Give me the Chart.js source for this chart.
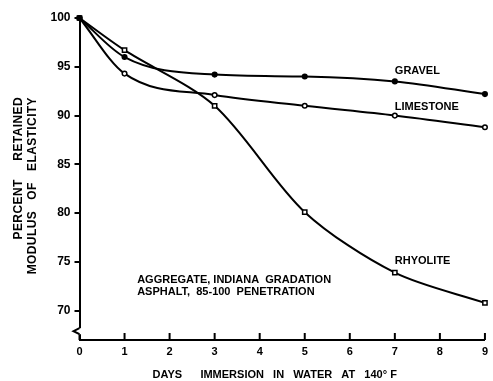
<!DOCTYPE html>
<html>
<head>
<meta charset="utf-8">
<script src="https://cdn.jsdelivr.net/npm/chart.js@4"></script>
<style>
html,body{margin:0;padding:0;background:#fff;}
canvas{display:block;}
</style>
</head>
<body>
<canvas id="c" width="493" height="381"></canvas>
<script>
// ---- data ----
const days = [0, 1, 3, 5, 7, 9];
const xTickValues = [0, 1, 2, 3, 4, 5, 6, 7, 8, 9];
const yTickValues = [70, 75, 80, 85, 90, 95, 100];
const gravel    = [100, 96.0, 94.2, 94.0, 93.5, 92.2];
const limestone = [100, 94.3, 92.1, 91.0, 90.0, 88.8];
const rhyolite  = [100, 96.7, 91.0, 80.1, 73.9, 70.8];
const seriesNames = ['GRAVEL', 'LIMESTONE', 'RHYOLITE'];
const noteLines = ['AGGREGATE, INDIANA  GRADATION', 'ASPHALT,  85-100  PENETRATION'];
const xTitle = 'DAYS      IMMERSION   IN   WATER   AT   140\u00B0 F';
const yTitleLines = ['PERCENT     RETAINED', 'MODULUS   OF   ELASTICITY'];

const FONT = '"Liberation Sans", Arial, sans-serif';

const decor = {
  id: 'decor',
  afterDraw(chart) {
    const {ctx, chartArea: a, scales: {x, y}} = chart;
    ctx.save();
    ctx.strokeStyle = '#000';
    ctx.lineWidth = 2;
    // inward x tick marks
    x.ticks.forEach(t => {
      const px = x.getPixelForValue(t.value);
      ctx.beginPath();
      ctx.moveTo(px, a.bottom);
      ctx.lineTo(px, a.bottom - 7);
      ctx.stroke();
    });
    // axis break mark on the y axis
    const by = y.getPixelForValue(67.9);
    ctx.fillStyle = '#fff';
    ctx.fillRect(a.left - 2, by - 3, 4, 6);
    ctx.beginPath();
    ctx.moveTo(a.left, by - 3);
    ctx.lineTo(a.left - 6, by);
    ctx.lineTo(a.left, by + 3);
    ctx.stroke();

    ctx.fillStyle = '#000';
    ctx.textBaseline = 'middle';
    ctx.textAlign = 'left';
    // series labels
    ctx.font = 'bold 11px ' + FONT;
    const lbl = [[7.0, 94.6], [7.0, 90.9], [7.0, 75.1]];
    seriesNames.forEach((s, i) => {
      ctx.fillText(s, x.getPixelForValue(lbl[i][0]), y.getPixelForValue(lbl[i][1]));
    });
    // note
    noteLines.forEach((s, i) => {
      ctx.fillText(s, x.getPixelForValue(1.28), y.getPixelForValue(i === 0 ? 73.2 : 71.95));
    });
    // x title
    ctx.font = 'bold 11px ' + FONT;
    ctx.fillText(xTitle, a.left + 73, a.bottom + 35);
    // y title (rotated)
    ctx.font = 'bold 12px ' + FONT;
    ctx.letterSpacing = '0.4px';
    ctx.textAlign = 'right';
    const ends = [19, 33];
    yTitleLines.forEach((s, i) => {
      ctx.save();
      ctx.translate(ends[i], a.top + 79);
      ctx.rotate(-Math.PI / 2);
      ctx.fillText(s, 0, 0);
      ctx.restore();
    });
    ctx.restore();
  }
};

const common = {borderColor: '#000', borderWidth: 2, cubicInterpolationMode: 'monotone',
  pointRadius: 2.3, pointBorderWidth: 1.5, pointBorderColor: '#000', clip: false};

new Chart(document.getElementById('c'), {
  type: 'line',
  data: {
    labels: days,
    datasets: [
      Object.assign({}, common, {label: seriesNames[0], data: gravel.map((v, i) => ({x: days[i], y: v})),
        pointStyle: 'circle', pointBackgroundColor: '#000'}),
      Object.assign({}, common, {label: seriesNames[1], data: limestone.map((v, i) => ({x: days[i], y: v})),
        pointStyle: 'circle', pointBackgroundColor: '#fff'}),
      Object.assign({}, common, {label: seriesNames[2], data: rhyolite.map((v, i) => ({x: days[i], y: v})),
        pointStyle: 'rect', pointBackgroundColor: '#fff', pointRadius: 3,
        cubicInterpolationMode: 'default', tension: 0.3})
    ]
  },
  options: {
    responsive: false,
    animation: false,
    devicePixelRatio: 1,
    layout: {padding: {top: 18, right: 5, left: 0, bottom: 0}},
    plugins: {legend: {display: false}, tooltip: {enabled: false}},
    scales: {
      x: {
        type: 'linear', min: 0, max: 9,
        afterBuildTicks: s => { s.ticks = xTickValues.map(v => ({value: v})); },
        afterFit: s => { s.height = 41; },
        grid: {display: false, drawTicks: false},
        border: {display: true, color: '#000', width: 2},
        ticks: {color: '#000', padding: 5, font: {family: FONT, size: 11, weight: 'bold'}, maxRotation: 0}
      },
      y: {
        type: 'linear', min: 67, max: 100,
        afterBuildTicks: s => { s.ticks = yTickValues.map(v => ({value: v})); },
        afterFit: s => { s.width = 79.5; },
        grid: {display: true, drawOnChartArea: false, drawTicks: true, tickLength: 5, color: '#000', lineWidth: 2},
        border: {display: true, color: '#000', width: 2},
        ticks: {color: '#000', padding: 4, font: {family: FONT, size: 12, weight: 'bold'}}
      }
    }
  },
  plugins: [decor]
});
</script>
</body>
</html>
